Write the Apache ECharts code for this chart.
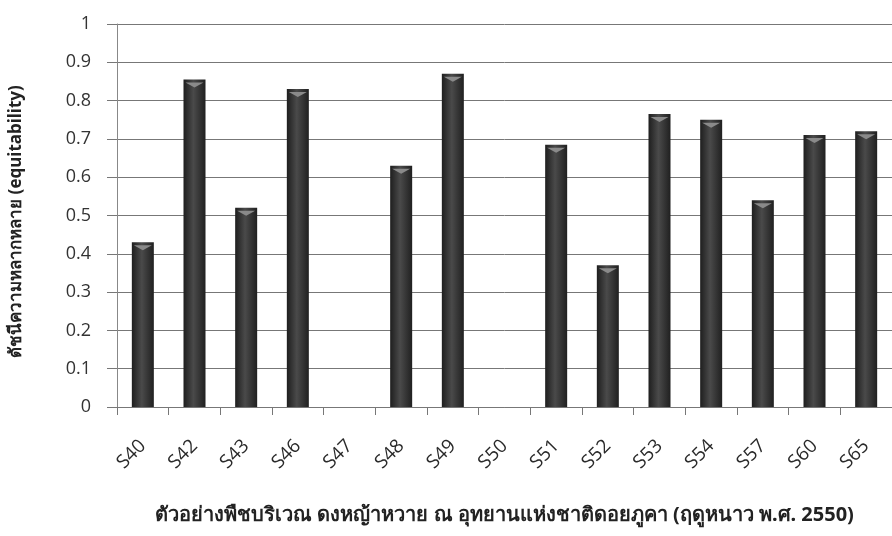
<!DOCTYPE html>
<html><head><meta charset="utf-8">
<script src="https://cdn.jsdelivr.net/npm/echarts@6/dist/echarts.min.js"></script>
<style>html,body{margin:0;padding:0;background:#fff}#c{width:892px;height:536px}</style>
</head><body><div id="c"></div>
<script>
const categories = ['S40','S42','S43','S46','S47','S48','S49','S50','S51','S52','S53','S54','S57','S60','S65'];
const equitability = [0.43,0.855,0.52,0.83,0,0.63,0.87,0,0.685,0.37,0.765,0.75,0.54,0.71,0.72];
const yTicks = [0,0.1,0.2,0.3,0.4,0.5,0.6,0.7,0.8,0.9,1];
const xTitle = 'ตัวอย่างพืชบริเวณ ดงหญ้าหวาย ณ อุทยานแห่งชาติดอยภูคา (ฤดูหนาว พ.ศ. 2550)';
const yTitle = 'ดัชนีความหลากหลาย (equitability)';

const chart = echarts.init(document.getElementById('c'), null, {renderer:'canvas'});
chart.setOption({
  backgroundColor:'#fff',
  animation:false,
  grid:{left:117, top:24, width:790, height:383, containLabel:false},
  xAxis:{
    type:'category', data:categories,
    name:xTitle, nameLocation:'middle', nameGap:98,
    nameTextStyle:{fontFamily:'Noto Sans', fontWeight:'bold', fontSize:20, color:'#222'},
    axisLine:{lineStyle:{color:'#777', width:1}},
    axisTick:{show:true, length:8, lineStyle:{color:'#777'}},
    axisLabel:{rotate:45, margin:36, fontFamily:'Open Sans', fontSize:19, color:'#2a2a2a'}
  },
  yAxis:{
    type:'value', min:0, max:1, interval:0.1,
    name:yTitle, nameLocation:'middle', nameGap:92,
    nameTextStyle:{fontFamily:'Noto Sans', fontWeight:'bold', fontSize:17, color:'#222', padding:[0,12,0,0]},
    axisLine:{show:true, lineStyle:{color:'#888'}},
    axisTick:{show:true, length:10, lineStyle:{color:'#777'}},
    axisLabel:{margin:26, fontFamily:'Open Sans', fontSize:18, color:'#333',
      formatter:v=>{const t=yTicks.find(x=>Math.abs(x-v)<1e-6);return t===undefined?'':String(t);}},
    splitLine:{show:true, lineStyle:{color:'#777', width:1}}
  },
  series:[{
    type:'bar', data:equitability, barWidth:22,
    itemStyle:{
      color:new echarts.graphic.LinearGradient(0,0,1,0,[
        {offset:0,color:'#1e1e1e'},{offset:0.45,color:'#4a4a4a'},{offset:1,color:'#202020'}]),
      borderWidth:0
    }
  },{
    type:'pictorialBar', data:equitability.map(v=>v>0?v:'-'),
    symbol:'path://M0,0 L20,0 L10,5 Z', symbolSize:[18,5],
    symbolPosition:'end', symbolOffset:[0,'60%'], z:3,
    itemStyle:{color:'#8a8a8a'}, silent:true
  }]
});
</script></body></html>
